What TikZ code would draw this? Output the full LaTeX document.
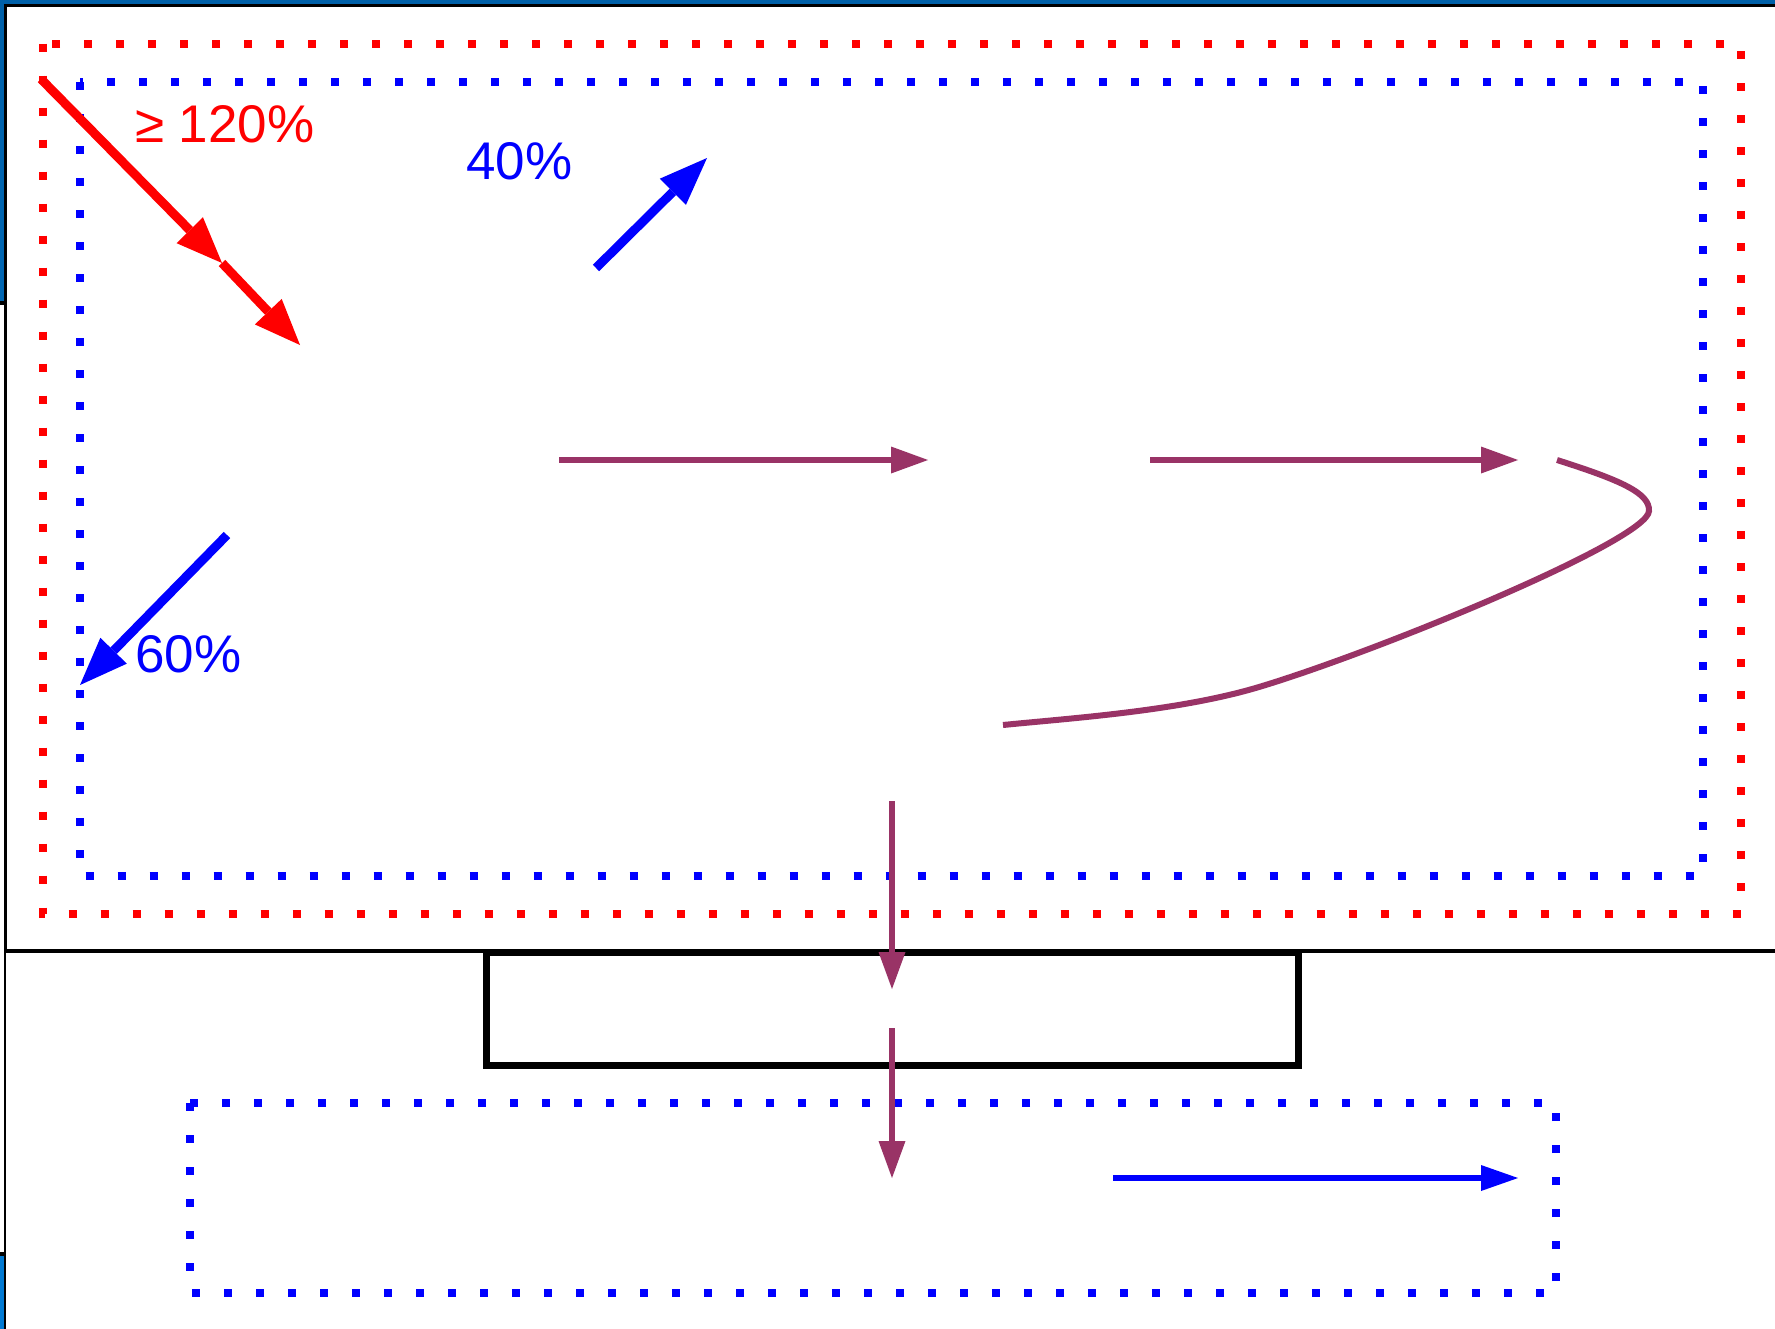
\documentclass[tikz,border=0pt]{standalone}
\usepackage{fontspec}
\setmainfont{Liberation Sans}
\usetikzlibrary{arrows.meta}
\definecolor{bgtop}{RGB}{0,96,168}
\definecolor{bgbot}{RGB}{0,122,212}
\definecolor{plum}{RGB}{153,51,102}
\tikzset{
  redarr/.style={draw=red, line width=9pt, -{Triangle[length=46pt,width=37pt,line width=0pt]}},
  bluearr/.style={draw=blue, line width=9pt, -{Triangle[length=48pt,width=37pt,line width=0pt]}},
  plumarr/.style={draw=plum, line width=6pt, -{Triangle[length=37pt,width=27pt,line width=0pt]}},
  blueharr/.style={draw=blue, line width=6pt, -{Triangle[length=37pt,width=26pt,line width=0pt]}},
  dotbox/.style={line width=8pt, dash pattern=on 8pt off 24pt, line cap=butt},
  pct/.style={font=\fontsize{53}{60}\selectfont, inner sep=0pt, anchor=base west},
  panel/.style={fill=white, draw=black}
}
\begin{document}
\begin{tikzpicture}[x=1pt,y=-1pt]
\useasboundingbox (0,0) rectangle (1775,1328);
% background
\shade[top color=bgtop, bottom color=bgbot] (0,0) rectangle (1775,1328);
\filldraw[panel, line width=4pt] (-10,302.5) rectangle (1790,1254);
\filldraw[panel, line width=2pt] (5,951) rectangle (1790,1340);
\filldraw[panel, line width=3.5pt] (5.5,5.5) rectangle (1790,951);
% dotted frames
\draw[dotbox, red] (43,43.5) rectangle (1741,914);
\draw[dotbox, blue] (79.5,82) rectangle (1703,876);
\draw[dotbox, blue] (190,1103) rectangle (1556,1293);
% black box
\node[draw=black, line width=7pt, minimum width=812pt, minimum height=113pt, inner sep=0pt] (box) at (892,1008.5) {};
% coordinates
\coordinate (r0) at (41,79);
\coordinate (r1) at (222,263);
\coordinate (r2) at (300,345);
\coordinate (b40s) at (596,268);
\coordinate (b40e) at (707,158);
\coordinate (b60s) at (227,535);
\coordinate (b60e) at (80,685);
\coordinate (h1s) at (559,460);
\coordinate (h1e) at (928,460);
\coordinate (h2s) at (1150,460);
\coordinate (h2e) at (1518,460);
\coordinate (cs) at (1557,460);
\coordinate (ca) at (1649,511);
\coordinate (cb) at (1259,687);
\coordinate (ce) at (1003,725);
\coordinate (v1s) at (892,801);
\coordinate (v1e) at (892,989);
\coordinate (v2s) at (892,1028);
\coordinate (v2e) at (892,1178);
\coordinate (bhs) at (1113,1178);
\coordinate (bhe) at (1518,1178);
% arrows
\draw[redarr] (r0) -- (r1);
\draw[redarr] (r1) -- (r2);
\draw[bluearr] (b40s) -- (b40e);
\draw[bluearr] (b60s) -- (b60e);
\draw[plumarr] (h1s) -- (h1e);
\draw[plumarr] (h2s) -- (h2e);
\draw[draw=plum, line width=6pt]
  (cs) .. controls (1620,480) and (1650,493) .. (ca)
       .. controls (1648,540) and (1379,651) .. (cb)
       .. controls (1179,711) and (1073,718) .. (ce);
\draw[plumarr] (v1s) -- (v1e);
\draw[plumarr] (v2s) -- (v2e);
\draw[blueharr] (bhs) -- (bhe);
% labels
\node[pct, text=red] (t120) at (135,142) {≥ 120\%};
\node[pct, text=blue] (t40) at (466,179) {40\%};
\node[pct, text=blue] (t60) at (135,672) {60\%};
\end{tikzpicture}
\end{document}
